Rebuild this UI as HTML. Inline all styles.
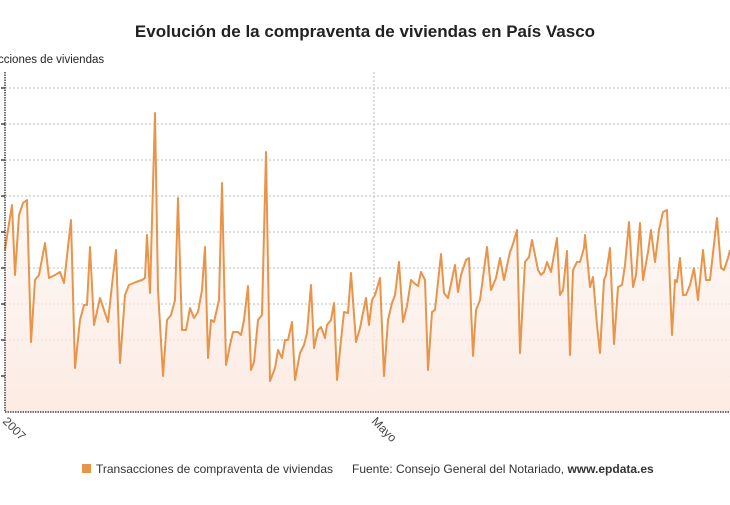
<!DOCTYPE html>
<html><head><meta charset="utf-8"><style>
body{margin:0;background:#fff;width:730px;height:500px;overflow:hidden;font-family:"Liberation Sans",sans-serif}
</style></head><body>
<svg width="730" height="500" xmlns="http://www.w3.org/2000/svg">
<defs><linearGradient id="g" x1="0" y1="0" x2="0" y2="1"><stop offset="0" stop-color="#fdf3ee" stop-opacity="0.3"/><stop offset="1" stop-color="#fcebe3"/></linearGradient></defs>
<text x="365" y="37" text-anchor="middle" font-size="17" font-weight="bold" fill="#222">Evolución de la compraventa de viviendas en País Vasco</text>
<text x="-2" y="63" font-size="11.5" fill="#222">cciones de viviendas</text>
<g stroke="#bbb" stroke-dasharray="2,2" stroke-width="1">
<line x1="5" x2="730" y1="88" y2="88"/><line x1="5" x2="730" y1="124" y2="124"/><line x1="5" x2="730" y1="160" y2="160"/><line x1="5" x2="730" y1="196" y2="196"/><line x1="5" x2="730" y1="232" y2="232"/><line x1="5" x2="730" y1="268" y2="268"/><line x1="5" x2="730" y1="304" y2="304"/><line x1="5" x2="730" y1="340" y2="340"/><line x1="5" x2="730" y1="376" y2="376"/>
<line x1="374" x2="374" y1="72" y2="412"/>
</g>
<polygon fill="url(#g)" points="5,412 5,250 8,230 12,205 15,275 19,215 23,203 27,200 31,342 35,280 39,275 45,243 49,278 55,275 60,272 64,283 71,220 75,368 80,320 84,305 87,305 90,247 94,325 100,298 104,310 108,322 112,285 116,250 120,363 125,295 129,285 136,282 142,280 145,278 147,235 150,293 155,113 158,290 163,376 167,320 171,315 175,300 178,198 182,330 186,330 190,308 194,318 198,312 202,290 205,247 208,358 211,320 214,322 219,300 222,183 226,365 230,345 233,332 238,332 241,335 244,320 248,286 251,370 254,362 258,320 262,315 266,152 270,381 275,368 278,350 282,358 285,340 288,340 292,322 295,380 300,353 304,345 307,333 311,285 314,348 318,330 321,327 325,338 327,325 331,320 334,303 337,380 341,340 344,312 348,313 351,273 356,342 360,328 366,298 369,325 372,300 375,295 380,278 384,376 388,320 392,303 395,295 399,262 403,322 407,306 411,280 414,283 418,286 421,272 425,280 428,370 432,312 435,310 441,254 444,293 448,298 455,265 458,292 461,275 466,260 469,258 473,356 476,310 480,300 487,247 491,290 496,278 500,258 504,280 510,252 513,244 517,230 520,353 525,262 529,257 532,240 538,270 541,275 544,272 547,262 551,272 557,238 560,295 563,290 567,251 570,355 573,270 577,262 580,262 584,248 585,235 590,287 593,277 597,325 600,353 604,280 606,275 610,248 614,344 618,287 622,285 625,265 629,222 633,287 636,275 640,223 643,280 648,252 651,230 655,262 659,230 663,212 667,210 672,335 675,280 677,282 680,258 683,295 686,295 690,285 694,268 698,300 703,250 706,280 710,280 713,253 717,218 721,268 724,270 728,258 730,250 730,412"/>
<polyline fill="none" stroke="#e8944a" stroke-width="2" stroke-linejoin="round" points="5,250 8,230 12,205 15,275 19,215 23,203 27,200 31,342 35,280 39,275 45,243 49,278 55,275 60,272 64,283 71,220 75,368 80,320 84,305 87,305 90,247 94,325 100,298 104,310 108,322 112,285 116,250 120,363 125,295 129,285 136,282 142,280 145,278 147,235 150,293 155,113 158,290 163,376 167,320 171,315 175,300 178,198 182,330 186,330 190,308 194,318 198,312 202,290 205,247 208,358 211,320 214,322 219,300 222,183 226,365 230,345 233,332 238,332 241,335 244,320 248,286 251,370 254,362 258,320 262,315 266,152 270,381 275,368 278,350 282,358 285,340 288,340 292,322 295,380 300,353 304,345 307,333 311,285 314,348 318,330 321,327 325,338 327,325 331,320 334,303 337,380 341,340 344,312 348,313 351,273 356,342 360,328 366,298 369,325 372,300 375,295 380,278 384,376 388,320 392,303 395,295 399,262 403,322 407,306 411,280 414,283 418,286 421,272 425,280 428,370 432,312 435,310 441,254 444,293 448,298 455,265 458,292 461,275 466,260 469,258 473,356 476,310 480,300 487,247 491,290 496,278 500,258 504,280 510,252 513,244 517,230 520,353 525,262 529,257 532,240 538,270 541,275 544,272 547,262 551,272 557,238 560,295 563,290 567,251 570,355 573,270 577,262 580,262 584,248 585,235 590,287 593,277 597,325 600,353 604,280 606,275 610,248 614,344 618,287 622,285 625,265 629,222 633,287 636,275 640,223 643,280 648,252 651,230 655,262 659,230 663,212 667,210 672,335 675,280 677,282 680,258 683,295 686,295 690,285 694,268 698,300 703,250 706,280 710,280 713,253 717,218 721,268 724,270 728,258 730,250"/>
<line x1="5" x2="5" y1="72" y2="412" stroke="#444" stroke-width="1.5" stroke-dasharray="1.5,1"/>
<line x1="5" x2="730" y1="412" y2="412" stroke="#444" stroke-width="1.5" stroke-dasharray="1.5,1"/>
<g stroke="#444" stroke-width="1.5"><line x1="1" x2="5" y1="88" y2="88"/><line x1="1" x2="5" y1="124" y2="124"/><line x1="1" x2="5" y1="160" y2="160"/><line x1="1" x2="5" y1="196" y2="196"/><line x1="1" x2="5" y1="232" y2="232"/><line x1="1" x2="5" y1="268" y2="268"/><line x1="1" x2="5" y1="304" y2="304"/><line x1="1" x2="5" y1="340" y2="340"/><line x1="1" x2="5" y1="376" y2="376"/></g>
<text transform="translate(2,422) rotate(45)" font-size="12" fill="#444">2007</text>
<text transform="translate(371,422) rotate(45)" font-size="12" fill="#444">Mayo</text>
<rect x="82" y="464" width="9" height="9" fill="#e8944a"/>
<text x="96" y="473" font-size="12" fill="#333">Transacciones de compraventa de viviendas</text>
<text x="352" y="473" font-size="12" fill="#333">Fuente: Consejo General del Notariado, <tspan font-weight="bold">www.epdata.es</tspan></text>
</svg>
</body></html>
